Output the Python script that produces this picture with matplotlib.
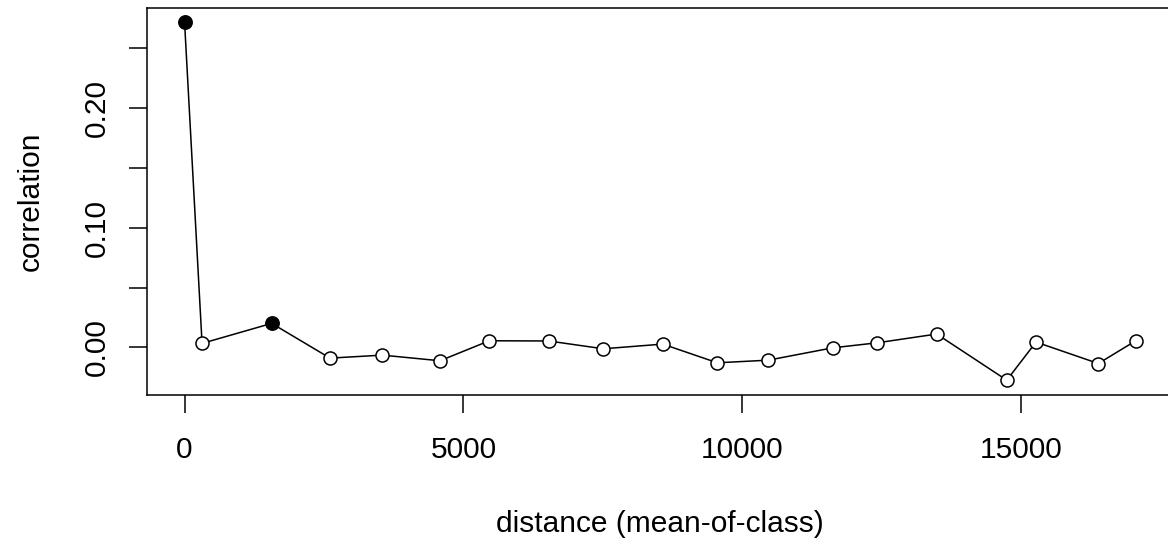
import matplotlib
matplotlib.use("Agg")
import matplotlib.pyplot as plt
import numpy as np

# distance class means and correlation values
distance = [0, 314, 1563, 2609, 3547, 4581, 5465, 6530, 7509, 8575,
            9554, 10468, 11623, 12422, 13487, 14743, 15268, 16385, 17056]
correlation = [0.2717, 0.0034, 0.0201, -0.0089, -0.0064, -0.0111, 0.0056,
               0.0054, -0.0011, 0.0028, -0.0128, -0.0106, -0.0003, 0.0039,
               0.0112, -0.0273, 0.0045, -0.0134, 0.0056]
significant = [True, False, True] + [False] * 16

x_ticks = [0, 5000, 10000, 15000]
x_tick_labels = ["0", "5000", "10000", "15000"]
y_ticks = [0.00, 0.05, 0.10, 0.15, 0.20, 0.25]
y_tick_labels = ["0.00", "", "0.10", "", "0.20", ""]

plt.rcParams['font.family'] = ['Liberation Sans', 'DejaVu Sans']
FS = 21.5

W, H = 1168, 540
fig = plt.figure(figsize=(W / 100, H / 100), dpi=100)
left_px, right_px, top_px, bottom_px = 146.5, 1173.8, 7.6, 394.5
ax = fig.add_axes([left_px / W, (H - bottom_px) / H,
                   (right_px - left_px) / W, (bottom_px - top_px) / H])

ax.plot(distance, correlation, color='black', lw=1.1, zorder=2)
dx = np.array(distance)
cy = np.array(correlation)
sig = np.array(significant)
ax.plot(dx[~sig], cy[~sig], 'o', ms=9.4, mfc='white', mec='black', mew=1.1,
        ls='none', zorder=3)
ax.plot(dx[sig], cy[sig], 'o', ms=9.6, mfc='black', mec='black', mew=1.1,
        ls='none', zorder=3)

xr = max(distance) - min(distance)
yr = max(correlation) - min(correlation)
ax.set_xlim(min(distance) - 0.04 * xr, max(distance) + 0.04 * xr)
ax.set_ylim(min(correlation) - 0.04 * yr, max(correlation) + 0.04 * yr)

ax.set_xticks(x_ticks)
ax.set_xticklabels(x_tick_labels)
ax.set_yticks(y_ticks)
ax.set_yticklabels(y_tick_labels, rotation=90, va='center')

ax.tick_params(axis='both', direction='out', length=12.8, width=1.1,
               labelsize=FS, color='black')
ax.tick_params(axis='x', pad=17)
ax.tick_params(axis='y', pad=13)
for s in ax.spines.values():
    s.set_linewidth(1.1)
    s.set_color('black')

ax.set_xlabel("distance (mean-of-class)", fontsize=FS, va='center')
ax.xaxis.set_label_coords(0.5, (bottom_px - 524) / (bottom_px - top_px))
ax.set_ylabel("correlation", fontsize=FS, va='center')
ax.yaxis.set_label_coords((31 - left_px) / (right_px - left_px), 0.5)

fig.savefig("out.png", dpi=100, facecolor='white')
